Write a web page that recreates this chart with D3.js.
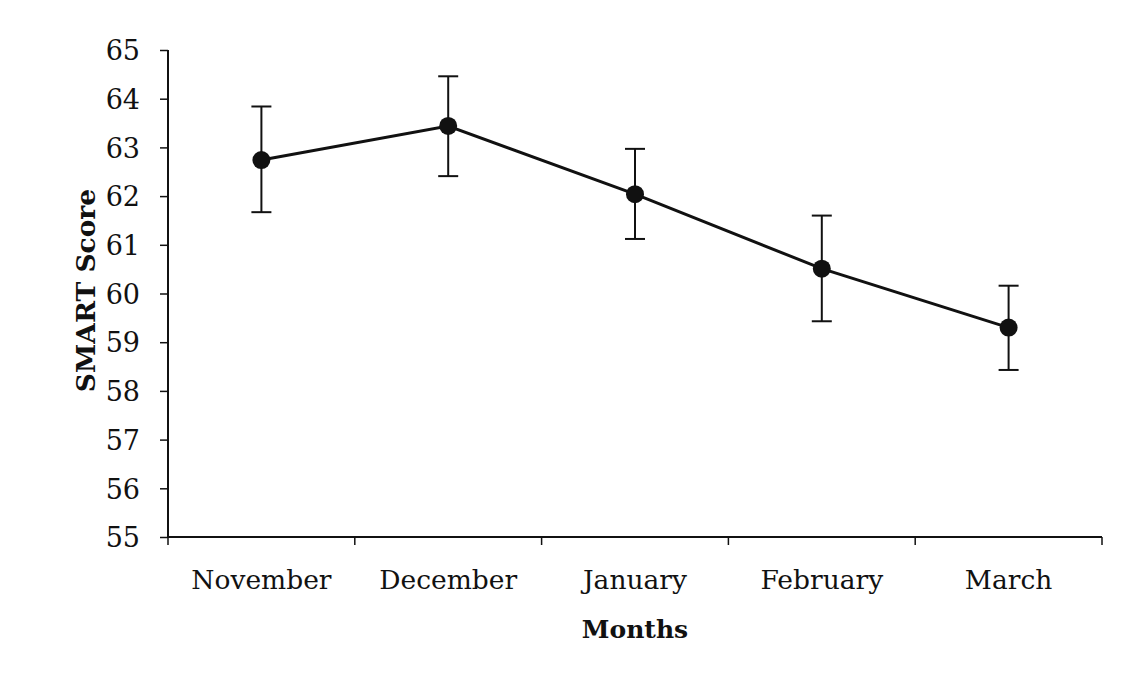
<!DOCTYPE html>
<html>
<head>
<meta charset="utf-8">
<script src="https://cdn.jsdelivr.net/npm/d3@7"></script>
<style>
  body { margin: 0; background: #fff; }
  svg text { font-family: "DejaVu Serif", "Liberation Serif", serif; fill: #111; }
</style>
</head>
<body>
<div id="chart"></div>
<script>
// data
var months = ["November", "December", "January", "February", "March"];
var means  = [62.74, 63.44, 62.04, 60.51, 59.30];
var upper  = [63.84, 64.46, 62.97, 61.60, 60.16];
var lower  = [61.67, 62.41, 61.12, 59.43, 58.43];
var yTicks = [55, 56, 57, 58, 59, 60, 61, 62, 63, 64, 65];

var W = 1135, H = 681;
var margin = { top: 50, right: 33, bottom: 144, left: 168 },
    width = W - margin.left - margin.right,
    height = H - margin.top - margin.bottom;

var data = months.map(function (m, i) {
    return { month: m, mean: means[i], hi: upper[i], lo: lower[i] };
});

var x = d3.scaleBand().domain(months).range([0, width]).padding(0);
var y = d3.scaleLinear().domain([55, 65]).range([height, 0]);

var svg = d3.select("#chart").append("svg")
    .attr("width", W)
    .attr("height", H)
    .append("g")
    .attr("transform", "translate(" + margin.left + "," + margin.top + ")");

// y axis
var yAxis = svg.append("g")
    .call(d3.axisLeft(y).tickValues(yTicks).tickSize(8).tickPadding(20).tickFormat(d3.format("d")));
yAxis.select(".domain").attr("stroke", "#111").attr("stroke-width", 2).attr("d", "M0,0V" + height);
yAxis.selectAll(".tick line").attr("stroke", "#111").attr("stroke-width", 1.5);
yAxis.selectAll("text").attr("font-size", 27).attr("dy", "0.36em");

// x axis: ticks between categories
var bounds = months.map(function (m) { return x(m); }).concat([width]);
var xAxis = svg.append("g").attr("transform", "translate(0," + height + ")");
xAxis.append("line")
    .attr("x1", 0).attr("x2", width)
    .attr("stroke", "#111").attr("stroke-width", 2);
xAxis.selectAll(".xtick").data(bounds).enter().append("line")
    .attr("class", "xtick")
    .attr("x1", function (d) { return d; }).attr("x2", function (d) { return d; })
    .attr("y1", 0).attr("y2", 8)
    .attr("stroke", "#111").attr("stroke-width", 1.5);
xAxis.selectAll(".xlab").data(months).enter().append("text")
    .attr("class", "xlab")
    .attr("x", function (d) { return x(d) + x.bandwidth() / 2; })
    .attr("y", 52)
    .attr("text-anchor", "middle")
    .attr("font-size", 26.5)
    .text(function (d) { return d; });

// axis titles
svg.append("text")
    .attr("transform", "translate(" + (-82) + "," + (height / 2 - 3) + ") rotate(-90)")
    .attr("text-anchor", "middle")
    .attr("dy", "0.35em")
    .attr("font-size", 26.5)
    .attr("font-weight", "bold")
    .text("SMART Score");

svg.append("text")
    .attr("x", width / 2)
    .attr("y", height + 101)
    .attr("text-anchor", "middle")
    .attr("font-size", 25)
    .attr("font-weight", "bold")
    .text("Months");

var cx = function (d) { return x(d.month) + x.bandwidth() / 2; };

// error bars
var eb = svg.append("g").selectAll("g").data(data).enter().append("g")
    .attr("stroke", "#111").attr("stroke-width", 2);
eb.append("line")
    .attr("x1", cx).attr("x2", cx)
    .attr("y1", function (d) { return y(d.hi); })
    .attr("y2", function (d) { return y(d.lo); });
eb.append("line")
    .attr("x1", function (d) { return cx(d) - 10; }).attr("x2", function (d) { return cx(d) + 10; })
    .attr("y1", function (d) { return y(d.hi); }).attr("y2", function (d) { return y(d.hi); });
eb.append("line")
    .attr("x1", function (d) { return cx(d) - 10; }).attr("x2", function (d) { return cx(d) + 10; })
    .attr("y1", function (d) { return y(d.lo); }).attr("y2", function (d) { return y(d.lo); });

// line
var line = d3.line().x(cx).y(function (d) { return y(d.mean); });
svg.append("path")
    .datum(data)
    .attr("d", line)
    .attr("fill", "none")
    .attr("stroke", "#111")
    .attr("stroke-width", 3);

// markers
svg.selectAll(".dot").data(data).enter().append("circle")
    .attr("class", "dot")
    .attr("cx", cx)
    .attr("cy", function (d) { return y(d.mean); })
    .attr("r", 9)
    .attr("fill", "#111");
</script>
</body>
</html>
